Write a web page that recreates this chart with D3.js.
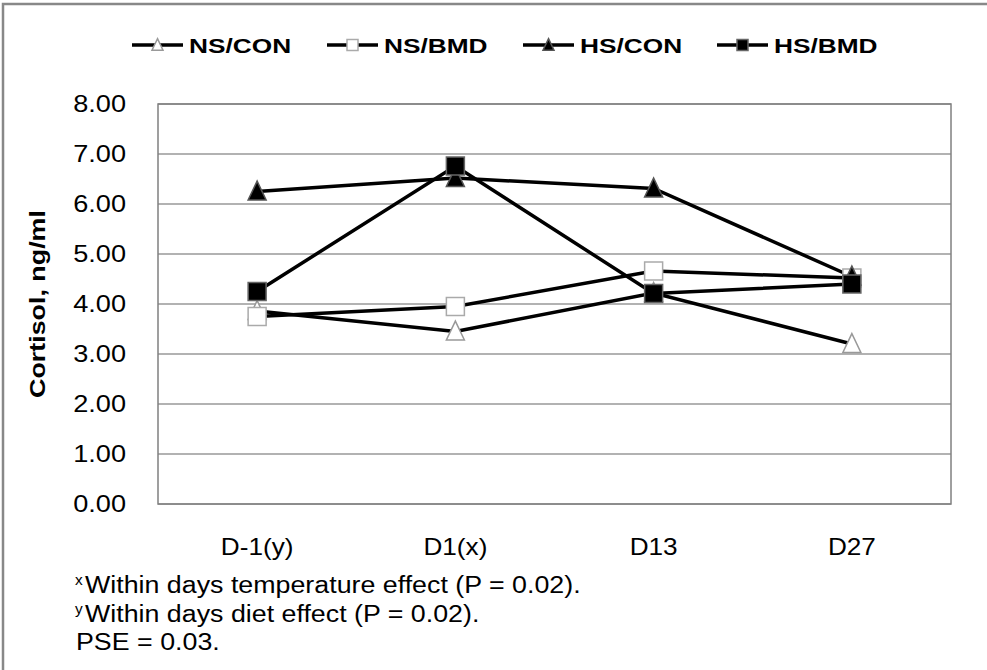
<!DOCTYPE html>
<html>
<head>
<meta charset="utf-8">
<script src="https://cdn.jsdelivr.net/npm/d3@7"></script>
<style>
  body { margin: 0; background: #fff; }
  text { font-family: "Liberation Sans", Arial, sans-serif; }
</style>
</head>
<body>
<div id="chart"></div>
<script>
const days = ["D-1(y)", "D1(x)", "D13", "D27"];
const seriesNames = ["NS/CON", "NS/BMD", "HS/CON", "HS/BMD"];
const nsCon = [3.86, 3.45, 4.22, 3.20];
const nsBmd = [3.75, 3.95, 4.66, 4.52];
const hsCon = [6.25, 6.52, 6.31, 4.55];
const hsBmd = [4.25, 6.76, 4.21, 4.40];
const yTicks = [0, 1, 2, 3, 4, 5, 6, 7, 8];
const footnotes = [
  { sup: "x", text: "Within days temperature effect (P = 0.02)." },
  { sup: "y", text: "Within days diet effect (P = 0.02)." },
  { sup: "", text: "PSE = 0.03." }
];

const W = 987, H = 670;
const margin = { left: 158, right: 36, top: 104, bottom: 166 };

// marker style per series
const markerStyle = [
  { shape: "triangle", fill: "#fff", stroke: "#999" },
  { shape: "square", fill: "#fff", stroke: "#aaa" },
  { shape: "triangle", fill: "#000", stroke: "#555" },
  { shape: "square", fill: "#000", stroke: "#666" }
];
const seriesValues = [nsCon, nsBmd, hsCon, hsBmd];

// the source picture is stretched sideways, so the text is widened to match
function stretch(sel, k) {
  sel.each(function () {
    const w = this.getComputedTextLength();
    d3.select(this)
      .attr("textLength", w * k)
      .attr("lengthAdjust", "spacingAndGlyphs");
  });
}

const svg = d3.select("#chart").append("svg")
  .attr("width", W)
  .attr("height", H);

// outer frame
svg.append("rect")
  .attr("x", 3).attr("y", 4)
  .attr("width", W + 10).attr("height", H + 10)
  .attr("fill", "none")
  .attr("stroke", "#888")
  .attr("stroke-width", 2.5);

const x = d3.scaleBand()
  .domain(days)
  .range([margin.left, W - margin.right])
  .padding(0);

const y = d3.scaleLinear()
  .domain([0, 8])
  .range([H - margin.bottom, margin.top]);

// gridlines
svg.append("g")
  .selectAll("line")
  .data(yTicks)
  .enter()
  .append("line")
  .attr("x1", margin.left)
  .attr("x2", W - margin.right)
  .attr("y1", d => y(d))
  .attr("y2", d => y(d))
  .attr("stroke", "#999")
  .attr("stroke-width", 1.5);

// plot border
svg.append("rect")
  .attr("x", margin.left)
  .attr("y", margin.top)
  .attr("width", W - margin.left - margin.right)
  .attr("height", H - margin.bottom - margin.top)
  .attr("fill", "none")
  .attr("stroke", "#808080")
  .attr("stroke-width", 1.5);

// y axis labels
const yAxis = svg.append("g")
  .attr("transform", `translate(${margin.left},0)`)
  .call(d3.axisLeft(y).tickValues(yTicks).tickFormat(d3.format(".2f")).tickSize(0).tickPadding(32));
yAxis.select(".domain").remove();
yAxis.selectAll("text")
  .attr("font-size", 23)
  .attr("font-family", "Liberation Sans, Arial, sans-serif")
  .attr("fill", "#000")
  .call(stretch, 1.18);

// x axis labels
const xAxis = svg.append("g")
  .attr("transform", `translate(0,${H - margin.bottom})`)
  .call(d3.axisBottom(x).tickSize(0).tickPadding(34));
xAxis.select(".domain").remove();
xAxis.selectAll("text")
  .attr("font-size", 24)
  .attr("font-family", "Liberation Sans, Arial, sans-serif")
  .attr("fill", "#000")
  .call(stretch, 1.09);

// y title
svg.append("text")
  .attr("transform", `translate(45,${(margin.top + H - margin.bottom) / 2}) rotate(-90)`)
  .attr("text-anchor", "middle")
  .attr("font-size", 22)
  .attr("font-weight", "bold")
  .text("Cortisol, ng/ml")
  .call(stretch, 1.22);

const cx = d => x(d) + x.bandwidth() / 2;

function drawMarker(g, style, px, py, size) {
  if (style.shape === "square") {
    g.append("rect")
      .attr("x", px - size / 2)
      .attr("y", py - size / 2)
      .attr("width", size)
      .attr("height", size)
      .attr("fill", style.fill)
      .attr("stroke", style.stroke)
      .attr("stroke-width", 1.5);
  } else {
    const h = size * 1.05;
    g.append("path")
      .attr("d", `M${px},${py - h * 0.55}L${px + size / 2},${py + h * 0.45}L${px - size / 2},${py + h * 0.45}Z`)
      .attr("fill", style.fill)
      .attr("stroke", style.stroke)
      .attr("stroke-width", 1.5);
  }
}

const line = d3.line()
  .x((d, i) => cx(days[i]))
  .y(d => y(d));

// lines first, then markers on top, in series order
seriesValues.forEach(vals => {
  svg.append("path")
    .datum(vals)
    .attr("fill", "none")
    .attr("stroke", "#000")
    .attr("stroke-width", 3.5)
    .attr("d", line);
});
seriesValues.forEach((vals, s) => {
  const g = svg.append("g");
  vals.forEach((v, i) => drawMarker(g, markerStyle[s], cx(days[i]), y(v), 18));
});

// legend
const legendX = [132, 327, 523, 717];
const legend = svg.append("g");
seriesNames.forEach((name, i) => {
  const lx = legendX[i];
  const ly = 45;
  legend.append("line")
    .attr("x1", lx).attr("x2", lx + 51)
    .attr("y1", ly).attr("y2", ly)
    .attr("stroke", "#000")
    .attr("stroke-width", 3.5);
  drawMarker(legend, markerStyle[i], lx + 25.5, ly, 11);
  legend.append("text")
    .attr("x", lx + 57)
    .attr("y", ly + 8)
    .attr("font-size", 21)
    .attr("font-weight", "bold")
    .text(name)
    .call(stretch, 1.25);
});

// footnotes
const foot = svg.append("g");
footnotes.forEach((f, i) => {
  const by = 593 + i * 28.5;
  if (f.sup) {
    foot.append("text")
      .attr("x", 75)
      .attr("y", by - 8)
      .attr("font-size", 14)
      .text(f.sup)
      .call(stretch, 1.1);
  }
  foot.append("text")
    .attr("x", f.sup ? 85 : 76)
    .attr("y", by)
    .attr("font-size", 23.5)
    .text(f.text)
    .call(stretch, 1.14);
});
</script>
</body>
</html>
